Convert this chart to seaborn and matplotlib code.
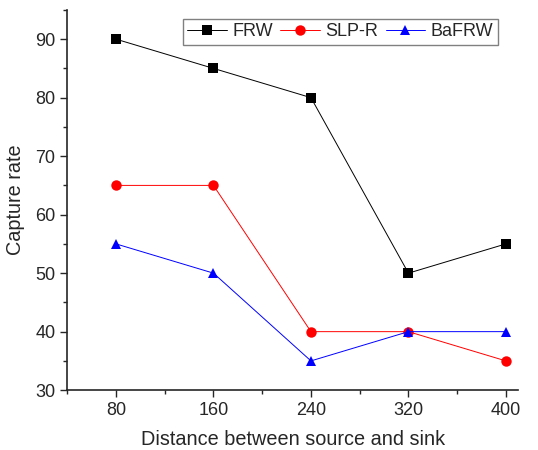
import pandas as pd
import numpy as np
import matplotlib.pyplot as plt
import seaborn as sns
from matplotlib.ticker import MultipleLocator

distance = [80, 160, 240, 320, 400]
frw = [90, 85, 80, 50, 55]
slp_r = [65, 65, 40, 40, 35]
bafrw = [55, 50, 35, 40, 40]

df = pd.DataFrame({'distance': distance, 'FRW': frw, 'SLP-R': slp_r, 'BaFRW': bafrw})
df = df.melt(id_vars='distance', var_name='method', value_name='rate')

sns.set_style('ticks')
plt.rcParams['font.family'] = ['Liberation Sans', 'DejaVu Sans']

fig = plt.figure(figsize=(5.38, 4.5), dpi=100)
ax = fig.add_axes([0.125, 0.133, 0.838, 0.845])

sns.lineplot(data=df, x='distance', y='rate', hue='method', style='method',
             palette={'FRW': 'black', 'SLP-R': 'red', 'BaFRW': 'blue'},
             markers={'FRW': 's', 'SLP-R': 'o', 'BaFRW': '^'},
             dashes=False, markersize=7.5, linewidth=0.7, markeredgewidth=0, ax=ax)

ax.set_xlim(40, 410)
ax.set_ylim(30, 95)
ax.set_xticks(distance)
ax.xaxis.set_minor_locator(MultipleLocator(40))
ax.yaxis.set_major_locator(MultipleLocator(10))
ax.yaxis.set_minor_locator(MultipleLocator(5))
ax.tick_params(which='major', direction='out', length=5, width=1, labelsize=13)
ax.tick_params(which='minor', direction='out', length=3, width=1)
for s in ['left', 'bottom']:
    ax.spines[s].set_linewidth(1.2)
sns.despine(ax=ax)

ax.set_xlabel('Distance between source and sink', fontsize=14.3, labelpad=8)
ax.set_ylabel('Capture rate', fontsize=14.3, labelpad=7)

leg = ax.legend(ncol=3, loc='upper right', bbox_to_anchor=(0.975, 1.0), fontsize=13,
                fancybox=False, edgecolor='grey', framealpha=1, handlelength=2.2,
                handletextpad=0.3, columnspacing=0.4, borderpad=0.25)
leg.get_frame().set_linewidth(1)

fig.savefig('out.png', dpi=100)
